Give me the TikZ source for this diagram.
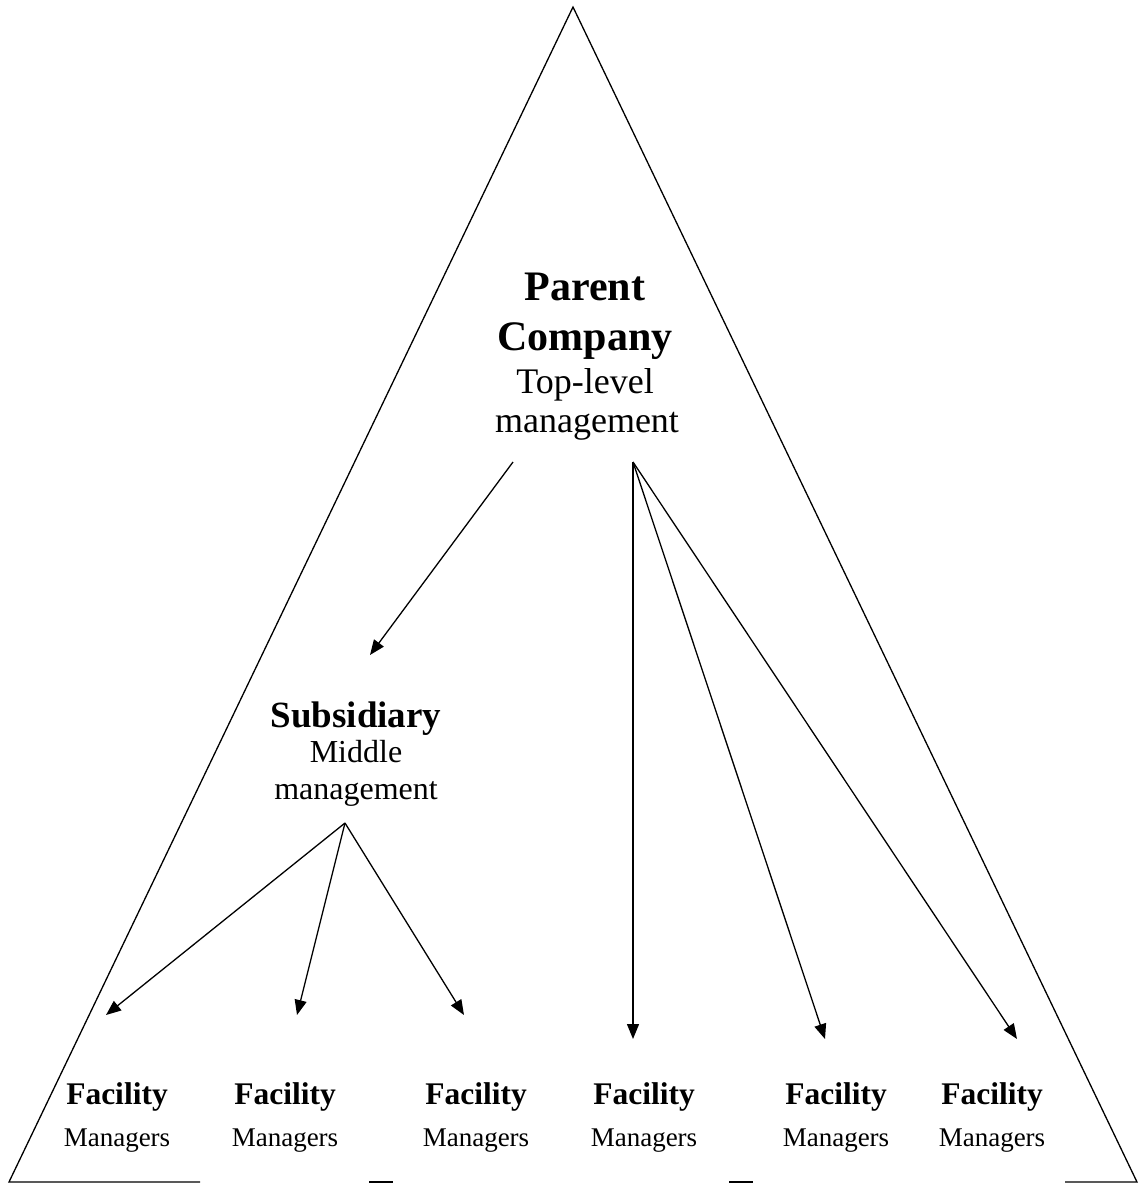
\documentclass[tikz,border=0pt]{standalone}
\usepackage{fontspec}
\setmainfont{Liberation Serif}
\usetikzlibrary{arrows.meta}
\begin{document}
\begin{tikzpicture}[x=1pt,y=-1pt,
  outline/.style={line width=1.3pt,line join=miter},
  conn/.style={line width=1.3pt,-{Triangle[length=15pt,width=12pt]}},
  txt/.style={anchor=base,inner sep=0pt},
  bigb/.style={txt,font=\fontsize{42}{50}\selectfont\bfseries},
  bigr/.style={txt,font=\fontsize{36}{42}\selectfont},
  midb/.style={txt,font=\fontsize{37}{44}\selectfont\bfseries},
  midr/.style={txt,font=\fontsize{32}{38}\selectfont},
  facb/.style={txt,font=\fontsize{31.5}{36}\selectfont\bfseries},
  facr/.style={txt,font=\fontsize{27}{32}\selectfont}]
\useasboundingbox (0,0) rectangle (1140,1184);
% triangle outline
\coordinate (apex) at (573,7);
\coordinate (bl) at (9,1182);
\coordinate (br) at (1137,1182);
\draw[outline] (200,1182) -- (bl) -- (apex) -- (br) -- (1065,1182);
\draw[outline] (369,1182) -- (393,1182);
\draw[outline] (729,1182) -- (753,1182);
% parent company
\node[bigb] (p1) at (585,300) {Parent};
\node[bigb] (p2) at (585,350) {Company};
\node[bigr] (p3) at (585,393) {Top-level};
\node[bigr] (p4) at (587,432) {management};
% subsidiary
\node[midb] (s1) at (356,727) {Subsidiary};
\node[midr] (s2) at (356,762) {Middle};
\node[midr] (s3) at (356,799) {management};
% facilities
\foreach \i/\x in {1/117,2/285,3/476,4/644,5/836,6/992}{
  \node[facb] (f\i) at (\x,1104) {Facility};
  \node[facr] (m\i) at (\x,1146) {Managers};
}
% connector endpoints
\coordinate (pa) at (513,462);
\coordinate (pb) at (633,462);
\coordinate (sa) at (345,823);
\coordinate (ts) at (370,655);
\coordinate (t1) at (106,1015);
\coordinate (t2) at (297,1015);
\coordinate (t3) at (464,1015);
\coordinate (t4) at (633,1039);
\coordinate (t5) at (825,1039);
\coordinate (t6) at (1017,1039);
\draw[conn] (pa) -- (ts);
\draw[conn] (pb) -- (t4);
\draw[conn] (pb) -- (t5);
\draw[conn] (pb) -- (t6);
\draw[conn] (sa) -- (t1);
\draw[conn] (sa) -- (t2);
\draw[conn] (sa) -- (t3);
\end{tikzpicture}
\end{document}
